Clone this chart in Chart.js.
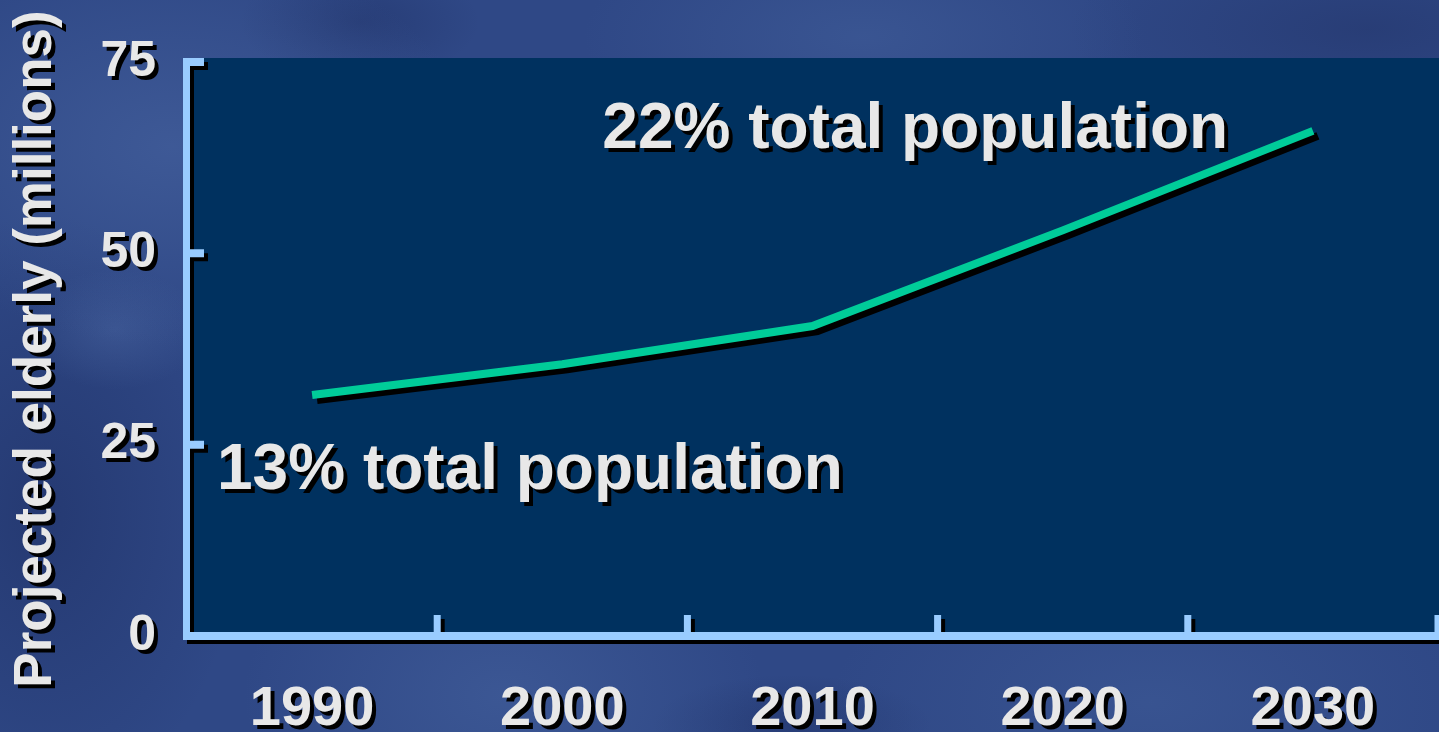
<!DOCTYPE html>
<html>
<head>
<meta charset="utf-8">
<script src="https://cdn.jsdelivr.net/npm/chart.js@4"></script>
<style>
  html, body { margin: 0; padding: 0; width: 1439px; height: 732px; overflow: hidden; }
  body {
    background-color: #2f4886;
    background-image:
      radial-gradient(ellipse 300px 200px at 12% 20%, rgba(80,110,170,.45), transparent),
      radial-gradient(ellipse 260px 180px at 35% 95%, rgba(75,105,165,.45), transparent),
      radial-gradient(ellipse 320px 160px at 80% 96%, rgba(70,100,160,.4), transparent),
      radial-gradient(ellipse 280px 120px at 60% 5%, rgba(70,100,160,.45), transparent),
      radial-gradient(ellipse 120px 60px at 25% 3%, rgba(25,40,90,.35), transparent),
      radial-gradient(ellipse 90px 60px at 8% 45%, rgba(85,115,175,.35), transparent),
      radial-gradient(ellipse 140px 50px at 55% 99%, rgba(25,40,90,.35), transparent),
      radial-gradient(ellipse 200px 300px at 3% 70%, rgba(25,40,90,.45), transparent),
      radial-gradient(ellipse 300px 100px at 95% 4%, rgba(30,45,95,.4), transparent);
  }
  #wrap { position: relative; width: 1444px; height: 732px; }
</style>
</head>
<body>
<div id="wrap"><canvas id="chart"></canvas></div>
<script>
const years = ["1990", "2000", "2010", "2020", "2030"];
const elderly = [31.5, 35.5, 40.5, 53, 66];
const yTicks = [0, 25, 50, 75];
const noteText = ["13% total population", "22% total population"];
const noteX = [-0.38, 1.16];   // category index where the text starts
const noteY = [19.2, 63.8];    // value of the text baseline

const font = '"Liberation Sans", Arial, sans-serif';
const textColor = "#e8e8e8";
const axisColor = "#99ccff";
const plotColor = "#00315f";

function shadow(ctx, d) {
  ctx.shadowColor = d ? "#000" : "rgba(0,0,0,0)";
  ctx.shadowOffsetX = d;
  ctx.shadowOffsetY = d;
  ctx.shadowBlur = 0;
}

const frame = {
  id: "frame",
  beforeDraw(chart) {
    const { ctx, chartArea: a } = chart;
    ctx.save();
    ctx.fillStyle = plotColor;
    ctx.fillRect(a.left, a.top - 4, chart.width - a.left, a.bottom - a.top + 4);
    ctx.restore();
    shadow(ctx, 4);
  },
  beforeDatasetsDraw(chart) {
    const { ctx, chartArea: a } = chart;
    const x = chart.scales.x, y = chart.scales.y;
    ctx.save();
    ctx.fillStyle = axisColor;
    ctx.beginPath();
    ctx.rect(a.left - 4, a.top - 4, 7, a.bottom - a.top + 8);
    ctx.rect(a.left - 4, a.bottom - 4, chart.width - a.left + 4, 8);
    y.ticks.forEach(t => {
      if (t.value === 0) return;
      ctx.rect(a.left, y.getPixelForValue(t.value) - 4, 17, 8);
    });
    for (let i = 1; i <= years.length; i++) {
      const px = x.getPixelForValue(i - 0.5);
      ctx.rect(px - 3.5, a.bottom - 21, 7, 21);
    }
    ctx.fill();
    ctx.restore();
    shadow(ctx, 5);
  },
  afterDatasetsDraw(chart) {
    shadow(chart.ctx, 4);
  },
  afterDraw(chart) {
    const { ctx } = chart;
    const x = chart.scales.x, y = chart.scales.y;
    ctx.save();
    shadow(ctx, 4);
    ctx.fillStyle = textColor;
    ctx.font = "bold 64px " + font;
    ctx.textAlign = "left";
    ctx.textBaseline = "alphabetic";
    noteText.forEach((t, i) => {
      ctx.fillText(t, x.getPixelForValue(noteX[i]), y.getPixelForValue(noteY[i]));
    });
    ctx.restore();
    shadow(ctx, 0);
  }
};

new Chart(document.getElementById("chart"), {
  type: "line",
  data: {
    labels: years,
    datasets: [{
      data: elderly,
      borderColor: "#00cc99",
      borderWidth: 8,
      pointRadius: 0,
      tension: 0,
      fill: false
    }]
  },
  options: {
    responsive: true,
    maintainAspectRatio: false,
    animation: false,
    layout: { padding: { top: 62, right: 6, left: 0, bottom: 0 } },
    plugins: { legend: { display: false }, tooltip: { enabled: false } },
    scales: {
      x: {
        offset: true,
        grid: { display: false, drawTicks: false },
        border: { display: false },
        ticks: { color: textColor, font: { family: font, size: 56, weight: "bold" }, padding: 40 },
        afterFit: s => { s.height = 96; }
      },
      y: {
        min: 0,
        max: 75,
        afterBuildTicks: s => { s.ticks = yTicks.map(v => ({ value: v })); },
        grid: { display: false, drawTicks: false },
        border: { display: false },
        ticks: { color: textColor, font: { family: font, size: 50, weight: "bold" }, padding: 31 },
        title: {
          display: true,
          text: "Projected elderly (millions)",
          color: textColor,
          font: { family: font, size: 53, weight: "bold" },
          padding: { top: 5, bottom: 0 }
        },
        afterFit: s => { s.width = 187; }
      }
    }
  },
  plugins: [frame]
});
</script>
</body>
</html>
